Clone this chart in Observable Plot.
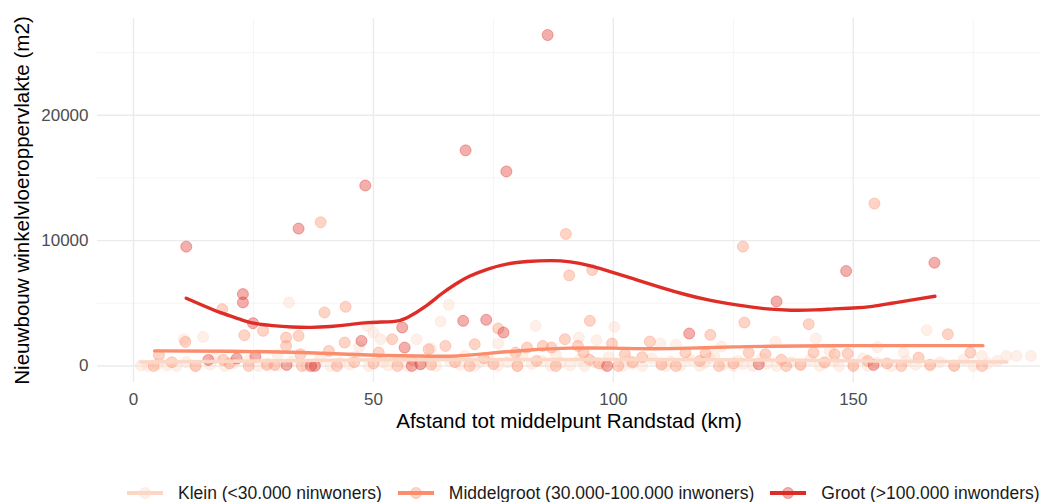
<!DOCTYPE html>
<html>
<head>
<meta charset="utf-8">
<script src="https://cdn.jsdelivr.net/npm/d3@7"></script>
<script src="https://cdn.jsdelivr.net/npm/@observablehq/plot@0.6"></script>
<style>
  html, body { margin: 0; padding: 0; background: #fff; }
  body { width: 1040px; height: 502px; overflow: hidden; font-family: "Liberation Sans", Arial, sans-serif; }
  #legend { display: flex; justify-content: flex-start; align-items: center; height: 20px; margin-top: 38px; padding-left: 127px; font-size: 17.5px; color: #1a1a1a; white-space: nowrap; }
  #legend .item { display: flex; align-items: center; margin-right: 16px; }
  #legend svg { margin-right: 15px; }
</style>
</head>
<body>
<div id="chart"></div>
<div id="legend"></div>
<script>
// ---- Data ----
const seriesNames = ["Klein (<30.000 ninwoners)", "Middelgroot (30.000-100.000 inwoners)", "Groot (>100.000 inwonders)"];
const seriesColors = ["#fdd7c6", "#fc8d6c", "#de2d26"];

const xTicks = [0, 50, 100, 150];
const yTicks = [0, 10000, 20000];
const xMinor = [25, 75, 125, 175];
const yMinor = [5000, 15000, 25000];

const kleinX = [32.4, 65.7, 64, 48.7, 50, 51.5, 59, 83.8, 92.8, 96.5, 100.2, 109.8, 133.8, 142.2, 160.5, 165.3, 176.8, 181.9, 14.5, 10.5, 1.6, 9, 122.5, 113, 76, 62, 47, 30, 17, 120, 145, 155,
  3, 5, 7, 11, 13, 16, 19, 21, 24, 26, 28, 30, 33, 36, 38, 39, 41, 43, 45, 46, 49, 52, 53, 55, 57, 60, 61, 63, 66, 68, 69, 71, 72, 74, 76, 78, 80, 81, 83, 85, 87, 88, 89, 91, 93, 94, 96, 98, 99,
  102, 103, 104, 106, 108, 110, 111, 112, 114, 116, 118, 119, 121, 123, 125, 126, 127, 129, 131, 132, 134, 137, 139, 141, 143, 144, 146, 147, 150, 152, 153, 155, 158, 161, 163, 166, 168, 171, 173, 175, 178, 180, 184, 187];
const kleinY = [5067, 4880, 3547, 3200, 2667, 2133, 2133, 3200, 2267, 2053, 3120, 1800, 1947, 2187, 1067, 2853, 800, 800, 2320, 2133, 53, 0, 1550, 1700, 1800, 1400, 1500, 900, 600, 600, 1200, 1500,
  0, 150, 50, 300, 0, 100, 0, 250, 450, 0, 200, 50, 350, 0, 150, 600, 0, 250, 100, 700, 0, 300, 50, 450, 0, 200, 600, 0, 350, 100, 800, 0, 250, 500, 50, 300, 0, 700, 150, 400, 0, 900, 250, 50, 500, 0, 300, 100, 700,
  0, 450, 150, 0, 600, 200, 0, 350, 50, 500, 0, 250, 800, 100, 0, 400, 150, 0, 600, 200, 0, 300, 50, 500, 0, 200, 400, 0, 100, 600, 0, 250, 0, 400, 100, 0, 300, 50, 500, 0, 200, 400, 800, 800];

const middelX = [39, 90.1, 154.4, 127, 90.8, 95.6, 95.1, 127.3, 44.2, 39.8, 18.5, 23.1, 27, 31.8, 31.8, 34.4, 34.8, 40.7, 10.8, 5.3, 18.7, 44, 53.9, 51.1, 61.5, 65, 71.1, 76, 79.6, 82, 85.3, 87.1, 89.9, 92.6, 93.8, 99.7, 102.4, 107.6, 115, 120.2, 119.2, 128.2, 131.7, 140.7, 141.7, 146.1, 148.8, 163.6, 169.7, 174.4, 176.8, 4.2, 12.9, 27.8, 29.4, 35.1, 42.4,
  50, 55, 62, 67, 70, 75, 80, 84, 88, 97, 101, 104, 110, 113, 118, 122, 125, 136, 139, 144, 150, 157, 160, 166, 171, 20, 24, 8, 46, 58, 73, 95, 106, 135, 153];
const middelY = [11467, 10533, 12960, 9520, 7227, 7653, 3600, 3467, 4720, 4267, 4533, 2453, 2800, 2267, 1600, 2400, 933, 1200, 1920, 853, 480, 1867, 2133, 1067, 1333, 1600, 1733, 2987, 1067, 1467, 1600, 1467, 2133, 1600, 1067, 1787, 933, 1947, 1067, 2480, 987, 1067, 933, 3333, 1067, 933, 987, 667, 2533, 1067, 0, 0, 0, 80, 80, 0, 0,
  200, 0, 100, 300, 0, 150, 0, 400, 0, 200, 0, 300, 100, 0, 400, 0, 200, 0, 100, 300, 0, 200, 0, 100, 0, 200, 0, 300, 300, 500, 600, 500, 700, 500, 400];

const grootX = [11, 22.8, 22.8, 34.4, 48.3, 69.2, 77.7, 86.3, 148.5, 166.9, 134, 24.9, 47.5, 56, 56.5, 15.6, 21.5, 25.4, 37, 31.9, 59.8, 68.7, 73.5, 77.1, 115.8, 98.7, 130.3, 154.2, 37.8, 58];
const grootY = [9520, 5733, 5067, 10960, 14400, 17200, 15520, 26400, 7573, 8240, 5147, 3413, 2000, 3067, 1467, 480, 587, 747, 0, 80, 133, 3600, 3680, 2667, 2587, 0, 133, 80, 0, 0];

// Smoothed trend curves
const kleinSmoothX = [1.5, 20, 40, 60, 80, 100, 120, 140, 160, 182];
const kleinSmoothY = [320, 380, 450, 500, 520, 520, 500, 450, 380, 320];
const middelSmoothX = [4.4, 20, 35, 49, 58, 66, 74, 82, 91, 100, 108, 116, 125, 133, 150, 165, 177];
const middelSmoothY = [1200, 1170, 1070, 870, 800, 780, 1000, 1250, 1420, 1420, 1370, 1420, 1520, 1570, 1620, 1620, 1620];
const grootSmoothX = [11, 14, 18, 22, 25, 29, 33, 37, 41, 45, 49, 54, 57, 61, 64, 67, 70, 74, 78, 82, 87, 91, 95, 100, 105, 110, 115, 120, 126, 132, 137, 142, 146, 150, 154, 158, 162, 167];
const grootSmoothY = [5400, 4900, 4270, 3750, 3420, 3220, 3110, 3080, 3150, 3300, 3460, 3540, 3850, 4800, 5700, 6500, 7150, 7750, 8150, 8330, 8400, 8300, 8000, 7450, 6850, 6250, 5700, 5250, 4850, 4550, 4450, 4470, 4550, 4620, 4750, 5000, 5250, 5560];

// ---- Build tables ----
const zip = (xs, ys) => xs.map((x, i) => ({x, y: ys[i]}));
const pts = [zip(kleinX, kleinY), zip(middelX, middelY), zip(grootX, grootY)];
const smooth = [zip(kleinSmoothX, kleinSmoothY), zip(middelSmoothX, middelSmoothY), zip(grootSmoothX, grootSmoothY)];

const font = '"Liberation Sans", Arial, sans-serif';

const chart = Plot.plot({
  width: 1040,
  height: 445,
  marginTop: 18,
  marginBottom: 63,
  marginLeft: 97,
  marginRight: 0,
  style: {fontFamily: font, background: "#fff", overflow: "visible"},
  x: {domain: [-7.5, 189]},
  y: {domain: [-1320, 27720]},
  marks: [
    Plot.ruleX(xMinor, {stroke: "#f2f2f2", strokeWidth: 0.8}),
    Plot.ruleY(yMinor, {stroke: "#f2f2f2", strokeWidth: 0.8}),
    Plot.ruleX(xTicks, {stroke: "#ebebeb", strokeWidth: 1.4}),
    Plot.ruleY(yTicks, {stroke: "#ebebeb", strokeWidth: 1.4}),
    ...pts.map((d, i) => Plot.dot(d, {x: "x", y: "y", r: 5.5, fill: seriesColors[i], fillOpacity: 0.38, stroke: seriesColors[i], strokeOpacity: 0.38, strokeWidth: 1})),
    ...smooth.map((d, i) => Plot.line(d, {x: "x", y: "y", stroke: seriesColors[i], strokeWidth: 3.4, curve: "natural"})),
    Plot.axisX(xTicks, {tickSize: 0, tickPadding: 10, fontSize: 17, color: "#4d4d4d", label: null, tickFormat: d => String(d)}),
    Plot.axisY(yTicks, {tickSize: 0, tickPadding: 9, fontSize: 17, color: "#4d4d4d", label: null, tickFormat: d => String(d)}),
    Plot.text(["Afstand tot middelpunt Randstad (km)"], {frameAnchor: "bottom", dy: 45, fontSize: 20.6, fill: "#000", textAnchor: "middle"}),
    Plot.text(["Nieuwbouw winkelvloeroppervlakte (m2)"], {frameAnchor: "left", dx: -75, rotate: -90, fontSize: 20.6, fill: "#000", textAnchor: "middle"})
  ]
});
document.getElementById("chart").appendChild(chart);

// ---- Legend ----
const legend = d3.select("#legend");
seriesNames.forEach((name, i) => {
  const item = legend.append("div").attr("class", "item");
  const svg = item.append("svg").attr("width", 36).attr("height", 18);
  svg.append("line").attr("x1", 0).attr("x2", 36).attr("y1", 9).attr("y2", 9)
    .attr("stroke", seriesColors[i]).attr("stroke-width", 4);
  svg.append("circle").attr("cx", 18).attr("cy", 9).attr("r", 5.5)
    .attr("fill", seriesColors[i]).attr("fill-opacity", 0.38)
    .attr("stroke", seriesColors[i]).attr("stroke-opacity", 0.38);
  item.append("span").text(name);
});
</script>
</body>
</html>
